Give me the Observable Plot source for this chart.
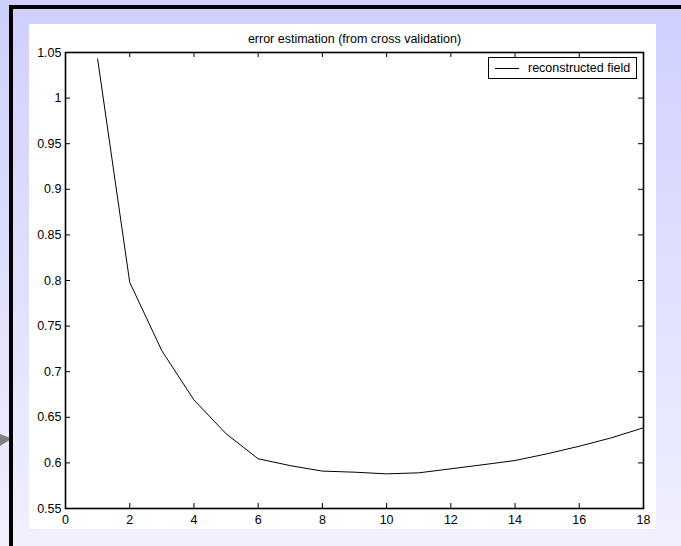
<!DOCTYPE html>
<html>
<head>
<meta charset="utf-8">
<script src="https://cdn.jsdelivr.net/npm/d3@7"></script>
<script src="https://cdn.jsdelivr.net/npm/@observablehq/plot@0.6"></script>
<style>
html, body { margin: 0; padding: 0; }
body {
  width: 681px; height: 546px; position: relative; overflow: hidden;
  background: linear-gradient(#cfcfff, #f0f0ff);
  font-family: "Liberation Sans", Arial, sans-serif;
}
#frame { position: absolute; left: 9px; top: 5px; right: 0; bottom: 0;
  border-top: 4px solid #000; border-left: 4px solid #000; }
#arrow { position: absolute; left: 0; top: 432px; }
#panel { position: absolute; left: 29px; top: 24px; width: 627px; height: 505px; background: #fff; }
#legend { position: absolute; left: 488px; top: 57px; width: 147px; height: 20px;
  border: 1px solid #000; background: #fff; font-size: 12.5px; color: #000; }
#legend .swatch { position: absolute; left: 6px; top: 10px; width: 24px; height: 0; border-top: 1px solid #000; }
#legend .label { position: absolute; left: 39px; top: 2px; line-height: 16px; white-space: nowrap; }
</style>
</head>
<body>
<div id="frame"></div>
<svg id="arrow" width="10" height="16"><path d="M0,2 L9,5.5 L9,8.5 L0,14 Z" fill="#808080"/></svg>
<div id="panel"></div>
<div id="legend"><span class="swatch"></span><span class="label"></span></div>
<script>
// ---- data ----
const titleText = "error estimation (from cross validation)";
const seriesName = "reconstructed field";
const nComp = [1, 2, 3, 4, 5, 6, 7, 8, 9, 10, 11, 12, 13, 14, 15, 16, 17, 18];
const errValue = [1.043, 0.798, 0.723, 0.669, 0.632, 0.6045, 0.597, 0.591, 0.5898, 0.588,
                  0.5891, 0.5935, 0.598, 0.6026, 0.610, 0.6183, 0.6275, 0.6385];
const xTicks = [0, 2, 4, 6, 8, 10, 12, 14, 16, 18];
const yTicks = [0.55, 0.6, 0.65, 0.7, 0.75, 0.8, 0.85, 0.9, 0.95, 1, 1.05];

const rows = nComp.map((n, i) => ({n, e: errValue[i]}));
const fmt = d => String(+d.toFixed(2));

const W = 627, H = 505, mL = 36, mR = 13, mT = 28, mB = 21;
const pw = W - mL - mR, ph = H - mT - mB, tk = 5;

const chart = Plot.plot({
  width: W, height: H,
  marginLeft: mL, marginRight: mR, marginTop: mT, marginBottom: mB,
  style: {background: "white", color: "black", fontFamily: "'Liberation Sans', Arial, sans-serif", fontSize: "12.5px"},
  x: {domain: [0, 18]},
  y: {domain: [0.55, 1.05]},
  marks: [
    Plot.axisX({ticks: xTicks, tickSize: 0, tickPadding: 7, label: null, tickFormat: fmt}),
    Plot.axisY({ticks: yTicks, tickSize: 0, tickPadding: 4, label: null, tickFormat: fmt}),
    Plot.tickX(xTicks, {x: d => d, insetBottom: ph - tk, stroke: "black"}),
    Plot.tickX(xTicks, {x: d => d, insetTop: ph - tk, stroke: "black"}),
    Plot.tickY(yTicks, {y: d => d, insetRight: pw - tk, stroke: "black"}),
    Plot.tickY(yTicks, {y: d => d, insetLeft: pw - tk, stroke: "black"}),
    Plot.line(rows, {x: "n", y: "e", stroke: "black", strokeWidth: 1}),
    Plot.frame({stroke: "black", strokeWidth: 1.6}),
    Plot.text([titleText], {text: d => d, frameAnchor: "top", dy: -14, lineAnchor: "middle", fill: "black"})
  ]
});
document.getElementById("panel").appendChild(chart);
document.querySelector("#legend .label").textContent = seriesName;
</script>
</body>
</html>
